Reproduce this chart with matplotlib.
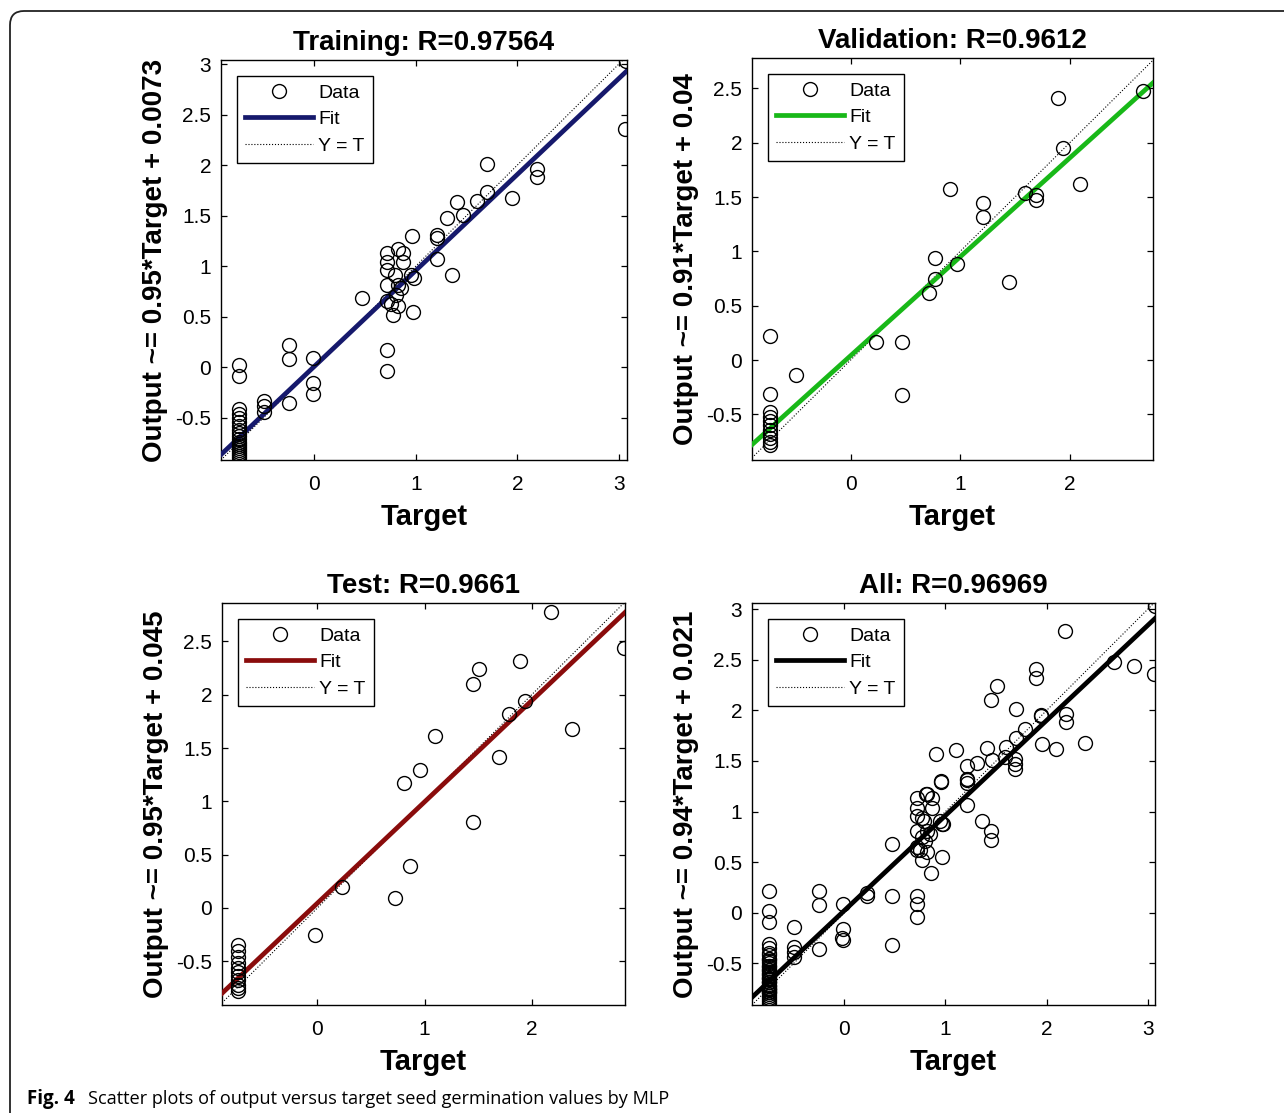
import numpy as np
import matplotlib
matplotlib.use("Agg")
import matplotlib.pyplot as plt
from matplotlib.patches import FancyBboxPatch
from matplotlib.transforms import IdentityTransform

plt.rcParams['font.family'] = ['Liberation Sans', 'DejaVu Sans']

# training set: target / output
train_t = [3.06, 1.70, 2.19, 2.19, 1.70, 1.95, 1.60, 1.41, 1.46, 1.31, 1.21, 1.21, 0.96, 1.21, 1.36,
           0.72, 0.72, 0.82, 0.87, 0.87, 0.72, 0.79, 0.95, 0.98, 0.72, 0.82, 0.85, 0.80, 0.72, 0.75,
           0.82, 0.77, 0.97, 0.47, 0.72, 0.72, -0.25, -0.25, -0.25, -0.01, -0.01, -0.01,
           -0.50, -0.50, -0.50, -0.74, -0.74, 3.07,
           -0.74, -0.74, -0.74, -0.74, -0.74, -0.74, -0.74, -0.74, -0.74, -0.74, -0.74, -0.74,
           -0.74, -0.74, -0.74, -0.74, -0.74, -0.74]
train_y = [2.36, 2.01, 1.96, 1.88, 1.73, 1.67, 1.64, 1.63, 1.51, 1.48, 1.31, 1.28, 1.30, 1.07, 0.91,
           1.13, 1.04, 1.17, 1.13, 1.04, 0.96, 0.91, 0.91, 0.88, 0.81, 0.81, 0.78, 0.71, 0.65, 0.62,
           0.60, 0.52, 0.55, 0.68, 0.17, -0.04, 0.22, 0.08, -0.36, 0.09, -0.16, -0.27,
           -0.34, -0.39, -0.44, 0.02, -0.09, 3.03,
           -0.42, -0.46, -0.50, -0.54, -0.58, -0.62, -0.65, -0.68, -0.71, -0.74, -0.76, -0.78,
           -0.80, -0.82, -0.84, -0.86, -0.88, -0.90]

# validation set
val_t = [2.67, 1.89, 1.94, 2.09, 1.59, 1.69, 1.69, 0.91, 1.21, 1.21, 0.77, 0.97, 0.77, 0.72, 1.45,
         0.23, 0.47, 0.47, -0.50, -0.74, -0.74,
         -0.74, -0.74, -0.74, -0.74, -0.74, -0.74, -0.74, -0.74, -0.74]
val_y = [2.48, 2.41, 1.95, 1.62, 1.54, 1.52, 1.47, 1.57, 1.45, 1.32, 0.94, 0.88, 0.75, 0.62, 0.72,
         0.17, 0.17, -0.32, -0.14, 0.22, -0.31,
         -0.48, -0.52, -0.56, -0.60, -0.64, -0.68, -0.72, -0.75, -0.78]

# test set
test_t = [2.18, 2.86, 1.89, 1.51, 1.45, 1.94, 1.79, 2.38, 1.10, 1.69, 0.96, 0.81, 1.45, 0.86, 0.72,
          0.23, -0.02,
          -0.74, -0.74, -0.74, -0.74, -0.74, -0.74, -0.74, -0.74, -0.74, -0.74, -0.74]
test_y = [2.78, 2.44, 2.32, 2.24, 2.10, 1.94, 1.82, 1.68, 1.61, 1.42, 1.29, 1.17, 0.81, 0.39, 0.09,
          0.20, -0.25,
          -0.35, -0.40, -0.46, -0.52, -0.56, -0.60, -0.64, -0.68, -0.72, -0.75, -0.78]

# all = union of the three sets
all_t = train_t + val_t + test_t
all_y = train_y + val_y + test_y

titles = ['Training: R=0.97564', 'Validation: R=0.9612', 'Test: R=0.9661', 'All: R=0.96969']
ylabels = ['Output ~= 0.95*Target + 0.0073', 'Output ~= 0.91*Target + 0.04',
           'Output ~= 0.95*Target + 0.045', 'Output ~= 0.94*Target + 0.021']
fit_slope = [0.95, 0.91, 0.95, 0.94]
fit_icpt = [0.0073, 0.04, 0.045, 0.021]
fit_colors = ['#16196c', '#18b818', '#8a0c0c', '#000000']
xticks = [[0, 1, 2, 3], [0, 1, 2], [0, 1, 2], [0, 1, 2, 3]]
yticks = [[-0.5, 0, 0.5, 1, 1.5, 2, 2.5, 3], [-0.5, 0, 0.5, 1, 1.5, 2, 2.5],
          [-0.5, 0, 0.5, 1, 1.5, 2, 2.5], [-0.5, 0, 0.5, 1, 1.5, 2, 2.5, 3]]
xlims = [(-0.92, 3.08), (-0.90, 2.76), (-0.89, 2.87), (-0.91, 3.07)]
ylims = [(-0.92, 3.04), (-0.92, 2.78), (-0.91, 2.86), (-0.91, 3.06)]
data = [(train_t, train_y), (val_t, val_y), (test_t, test_y), (all_t, all_y)]

W, H = 1284, 1113
# axes boxes in pixels: left, top, right, bottom
boxes = [(221, 60, 627, 460), (752, 58, 1153, 460), (222, 603, 625, 1005), (752, 603, 1155, 1005)]

fig = plt.figure(figsize=(W / 100, H / 100), dpi=100)

# rounded frame round the figure
frame = FancyBboxPatch((10, -60), 1400, H - 11 + 60, boxstyle="round,pad=0,rounding_size=14",
                       transform=IdentityTransform(), fc='none', ec='#222222', lw=1.3)
fig.add_artist(frame)

for i in range(4):
    l, t, r, b = boxes[i]
    ax = fig.add_axes([l / W, 1 - b / H, (r - l) / W, (b - t) / H])
    tt, yy = data[i]
    xs = np.array(xlims[i])
    ax.plot(xs, xs, ':', color='k', lw=0.8, label='Y = T', zorder=2)
    ax.plot(xs, fit_slope[i] * xs + fit_icpt[i], '-', color=fit_colors[i], lw=3.4, label='Fit', zorder=3)
    ax.plot(tt, yy, 'o', mfc='none', mec='k', ms=10, mew=1.0, label='Data', zorder=4)
    ax.set_xlim(xlims[i])
    ax.set_ylim(ylims[i])
    ax.set_xticks(xticks[i])
    ax.set_yticks(yticks[i])
    ax.set_yticklabels([f'{v:g}' for v in yticks[i]])
    ax.tick_params(direction='in', top=True, right=True, length=4, width=0.9, labelsize=15)
    ax.tick_params(axis='x', pad=11)
    ax.tick_params(axis='y', pad=7)
    for s in ax.spines.values():
        s.set_linewidth(1.0)
    ax.set_title(titles[i], fontsize=20, fontweight='bold', pad=7)
    ax.set_xlabel('Target', fontsize=21, fontweight='bold', labelpad=6)
    ax.set_ylabel(ylabels[i], fontsize=20, fontweight='bold', labelpad=5)
    h, lab = ax.get_legend_handles_labels()
    order = [2, 1, 0]
    ax.legend([h[k] for k in order], [lab[k] for k in order], loc='upper left', fontsize=14,
              fancybox=False, edgecolor='k', framealpha=1, handlelength=3.5, handletextpad=0.25,
              borderpad=0.45, labelspacing=0.45, borderaxespad=0.8).get_frame().set_linewidth(1.0)

fig.text(27 / W, 1 - 1104 / H, 'Fig. 4', fontsize=13.5, fontweight='bold', family=['Open Sans', 'DejaVu Sans'],
         va='baseline')
fig.text(88 / W, 1 - 1104 / H, 'Scatter plots of output versus target seed germination values by MLP',
         fontsize=13.1, family=['Open Sans', 'DejaVu Sans'], va='baseline')

fig.savefig('out.png', dpi=100)
